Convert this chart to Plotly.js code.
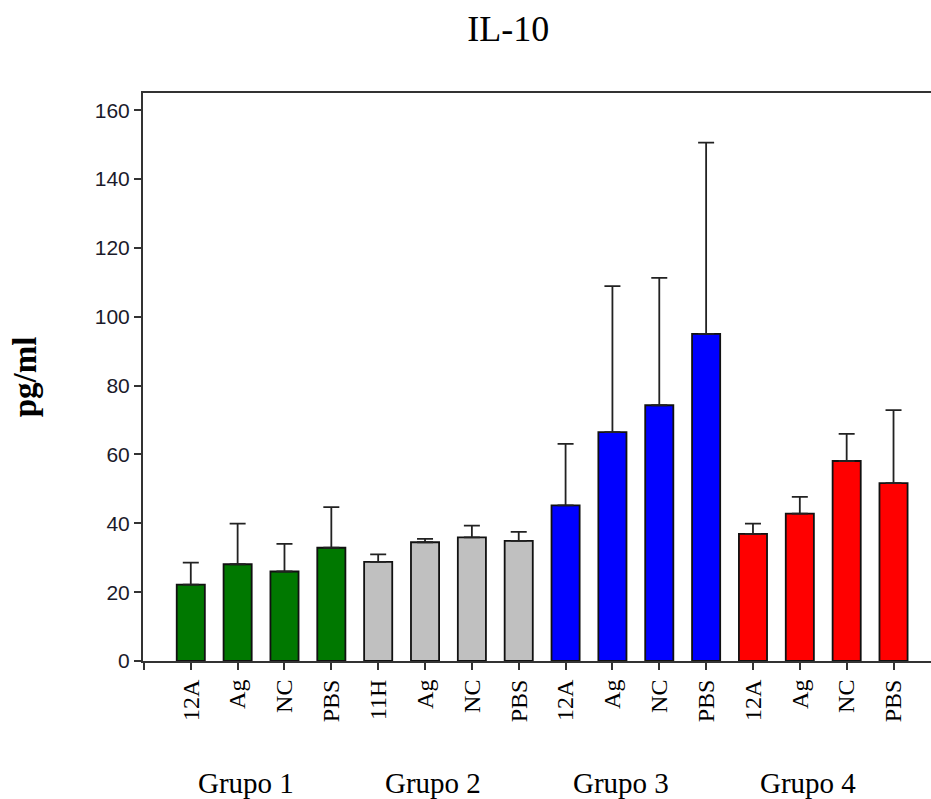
<!DOCTYPE html>
<html>
<head>
<meta charset="utf-8">
<script src="https://cdn.plot.ly/plotly-3.0.1.min.js"></script>
<style>html,body{margin:0;padding:0;background:#fff;}#chart{width:931px;height:799px;}</style>
</head>
<body>
<div id="chart"></div>
<script>
// ---- data ----
var categories = ["12A","Ag","NC","PBS","11H","Ag","NC","PBS","12A","Ag","NC","PBS","12A","Ag","NC","PBS"];
var groupNames = ["Grupo 1","Grupo 2","Grupo 3","Grupo 4"];
var grupo1 = [22.2, 28.1, 26.0, 32.9];
var grupo1Err = [6.4, 11.8, 8.0, 11.8];
var grupo2 = [28.8, 34.5, 35.9, 34.9];
var grupo2Err = [2.2, 1.0, 3.4, 2.6];
var grupo3 = [45.2, 66.5, 74.3, 95.0];
var grupo3Err = [17.9, 42.4, 37.0, 55.6];
var grupo4 = [36.9, 42.8, 58.1, 51.7];
var grupo4Err = [3.0, 4.9, 7.9, 21.2];
var yTickVals = [0, 20, 40, 60, 80, 100, 120, 140, 160];

var groups = [grupo1, grupo2, grupo3, grupo4];
var groupErrs = [grupo1Err, grupo2Err, grupo3Err, grupo4Err];
var groupColors = ["#007800", "#c0c0c0", "#0000ff", "#ff0000"];

var traces = groups.map(function (vals, g) {
  var xs = vals.map(function (_, i) { return g * 4 + i; });
  return {
    type: "bar",
    x: xs,
    y: vals,
    width: 0.6,
    marker: { color: groupColors[g], line: { color: "#111", width: 1.8 } },
    error_y: { type: "data", array: groupErrs[g], arrayminus: vals.map(function(){return 0;}),
               symmetric: false, color: "#222", thickness: 1.8, width: 8 },
    showlegend: false,
    hoverinfo: "y"
  };
});

var tickVals = [-1].concat(categories.map(function (_, i) { return i; }));
var tickText = [""].concat(categories);

var annotations = groupNames.map(function (name, g) {
  return {
    text: name, xref: "x", yref: "paper", x: g * 4 + 1.18, y: -0.215,
    xanchor: "center", yanchor: "middle", showarrow: false,
    font: { family: "Liberation Serif, Times New Roman, serif", size: 29, color: "#000" }
  };
});

var layout = {
  width: 931, height: 799,
  margin: { l: 143, r: 0, t: 93, b: 138 },
  paper_bgcolor: "#fff", plot_bgcolor: "#fff",
  title: { text: "IL-10", xref: "container", yref: "container", x: 0.546, y: 0.965,
           xanchor: "center", yanchor: "middle",
           font: { family: "Liberation Serif, Times New Roman, serif", size: 36, color: "#000" } },
  xaxis: {
    range: [-1.02, 15.8], tickmode: "array", tickvals: tickVals, ticktext: tickText,
    tickangle: -90, ticks: "outside", ticklen: 7, tickwidth: 2, tickcolor: "#333",
    showline: true, linecolor: "#333", linewidth: 2, mirror: true,
    showgrid: false, zeroline: false,
    tickfont: { family: "Liberation Serif, Times New Roman, serif", size: 24, color: "#000" }
  },
  yaxis: {
    range: [0, 165], tickmode: "array", tickvals: yTickVals,
    ticks: "outside", ticklen: 7, tickwidth: 2, tickcolor: "#333",
    showline: true, linecolor: "#333", linewidth: 2,
    showgrid: false, zeroline: false,
    ticksuffix: "\u2009\u2009",
    tickfont: { family: "Liberation Sans, Arial, sans-serif", size: 21, color: "#1a1a2a" },
    title: { text: "<b>pg/ml</b>", standoff: 48,
             font: { family: "Liberation Serif, Times New Roman, serif", size: 33, color: "#000" } }
  },
  annotations: annotations,
  bargap: 0.4
};

Plotly.newPlot("chart", traces, layout, { displayModeBar: false, staticPlot: true });
</script>
</body>
</html>
